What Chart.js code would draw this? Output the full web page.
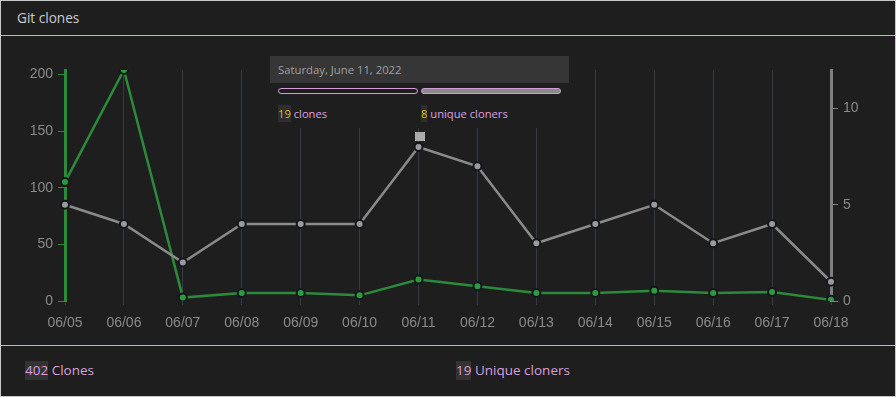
<!DOCTYPE html>
<html>
<head>
<meta charset="utf-8">
<script src="https://cdn.jsdelivr.net/npm/chart.js@4/dist/chart.umd.min.js"></script>
<style>
  html, body { margin: 0; padding: 0; background: #1e1e1e; }
  body { position: relative; width: 896px; height: 397px; overflow: hidden; font-family: "Open Sans", "Noto Sans", sans-serif; }
  .frame { position: absolute; left: 0; top: 0; width: 896px; height: 397px; box-sizing: border-box; border: 1px solid #c8c8c8; pointer-events: none; }
  .title { position: absolute; left: 17px; top: 8px; font-size: 13.6px; color: #cccccc; line-height: 20px; }
  .sep { position: absolute; left: 1px; width: 894px; height: 1px; background: #d9a3de; }
  #wrap { position: absolute; left: 0; top: 36px; width: 896px; height: 308px; }
  #wrap canvas { display: block; }
  .tip { position: absolute; top: 56px; width: 299px; height: 72px; background: #1e1e1e; }
  .tip .head { position: absolute; left: 0; top: 0; width: 299px; height: 27px; background: #363636; color: #a0a0a0; font-size: 11.3px; line-height: 28px; padding-left: 8px; box-sizing: border-box; }
  .pill { position: absolute; top: 32px; height: 6px; width: 140px; box-sizing: border-box; border: 1px solid #d49bd9; border-radius: 3px; }
  .row { position: absolute; top: 49px; font-size: 11.2px; line-height: 17px; color: #dba0e0; white-space: nowrap; }
  .num { background: #2e2e2e; color: #dcbd1a; display: inline-block; }
  .foot { position: absolute; top: 361px; font-size: 13.5px; line-height: 19px; color: #d99ede; white-space: nowrap; }
  .foot .n { background: #333333; display: inline-block; }
</style>
</head>
<body>
<div class="title">Git clones</div>
<div class="sep" style="top:35px"></div>
<div id="wrap"><canvas id="c" width="896" height="308"></canvas></div>
<div class="sep" style="top:345px"></div>
<div class="tip" id="tip">
  <div class="head" id="tipHead"></div>
  <div class="pill" style="left:8px;background:#1e1e1e"></div>
  <div class="pill" style="left:151px;background:#8a8a8a"></div>
  <div class="row" style="left:8px"><span class="num" id="tipClones"></span> clones</div>
  <div class="row" style="left:151px"><span class="num" id="tipUnique"></span> unique cloners</div>
</div>
<div class="foot" style="left:25px"><span class="n" id="totC"></span> Clones</div>
<div class="foot" style="left:456px"><span class="n" id="totU"></span> Unique cloners</div>
<div class="frame"></div>
<script>
const categories = ['06/05','06/06','06/07','06/08','06/09','06/10','06/11','06/12','06/13','06/14','06/15','06/16','06/17','06/18'];
const clones = [105,204,3,7,7,5,19,13,7,7,9,7,8,1];
const uniqueCloners = [5,4,2,4,4,4,8,7,3,4,5,3,4,1];
const clonesTicks = [0,50,100,150,200];
const uniqueTicks = [0,5,10];
const clonesMax = 204;
const uniqueMax = 12;
const totalClones = 402;
const totalUnique = 19;
const tooltipIndex = 6;
const tooltipDate = 'Saturday, June 11, 2022';

document.getElementById('tipHead').textContent = tooltipDate;
document.getElementById('tipClones').textContent = clones[tooltipIndex];
document.getElementById('tipUnique').textContent = uniqueCloners[tooltipIndex];
document.getElementById('totC').textContent = totalClones;
document.getElementById('totU').textContent = totalUnique;

Chart.defaults.font.family = '"Liberation Sans", Arial, sans-serif';
Chart.defaults.font.size = 14;

const GREEN = '#2b8a3b';
const GREEN_FILL = '#2e9a3f';
const GRAY = '#8a8a8a';
const GRAY_FILL = '#9a9a9a';
const PT_BORDER = '#13171d';

const markerPlugin = {
  id: 'marker',
  afterDatasetsDraw(chart) {
    const pt = chart.getDatasetMeta(1).data[tooltipIndex];
    const ctx = chart.ctx;
    ctx.save();
    ctx.fillStyle = '#ababab';
    ctx.fillRect(Math.round(pt.x) - 4, Math.round(pt.y) - 15, 10, 9);
    ctx.restore();
    const tip = document.getElementById('tip');
    tip.style.left = (Math.round(pt.x) - 149) + 'px';
  }
};

new Chart(document.getElementById('c'), {
  type: 'line',
  data: {
    labels: categories,
    datasets: [
      {
        label: 'Clones',
        data: clones,
        yAxisID: 'y',
        borderColor: GREEN,
        backgroundColor: GREEN_FILL,
        pointBackgroundColor: GREEN_FILL,
        pointBorderColor: PT_BORDER,
        pointBorderWidth: 2,
        pointRadius: 4,
        borderWidth: 2.5,
        tension: 0,
        order: 2
      },
      {
        label: 'Unique cloners',
        data: uniqueCloners,
        yAxisID: 'y1',
        borderColor: GRAY,
        backgroundColor: GRAY_FILL,
        pointBackgroundColor: GRAY_FILL,
        pointBorderColor: PT_BORDER,
        pointBorderWidth: 2,
        pointRadius: 4,
        borderWidth: 2.5,
        tension: 0,
        order: 1
      }
    ]
  },
  options: {
    responsive: false,
    animation: false,
    devicePixelRatio: 1,
    layout: { padding: { top: 34, left: 0, right: 0, bottom: 0 } },
    plugins: { legend: { display: false }, tooltip: { enabled: false } },
    scales: {
      x: {
        grid: { color: '#353b45', lineWidth: 1, tickLength: 4, drawTicks: true },
        border: { display: false },
        ticks: { color: '#8a8a8a', padding: 10, maxRotation: 0, autoSkip: false },
        afterFit(s) { s.height = 43; }
      },
      y: {
        position: 'left',
        min: 0,
        max: clonesMax,
        grid: { drawOnChartArea: false, color: GREEN, tickLength: 7 },
        border: { display: true, color: GREEN, width: 3 },
        ticks: { color: '#8a8a8a', padding: 5, stepSize: 50 },
        afterBuildTicks(s) { s.ticks = clonesTicks.map(v => ({ value: v })); },
        afterFit(s) { s.width = 65; }
      },
      y1: {
        position: 'right',
        min: 0,
        max: uniqueMax,
        grid: { drawOnChartArea: false, color: '#808080', tickLength: 7 },
        border: { display: true, color: '#808080', width: 3 },
        ticks: { color: '#8a8a8a', padding: 5, stepSize: 5 },
        afterBuildTicks(s) { s.ticks = uniqueTicks.map(v => ({ value: v })); },
        afterFit(s) { s.width = 65; }
      }
    }
  },
  plugins: [markerPlugin]
});
</script>
</body>
</html>
